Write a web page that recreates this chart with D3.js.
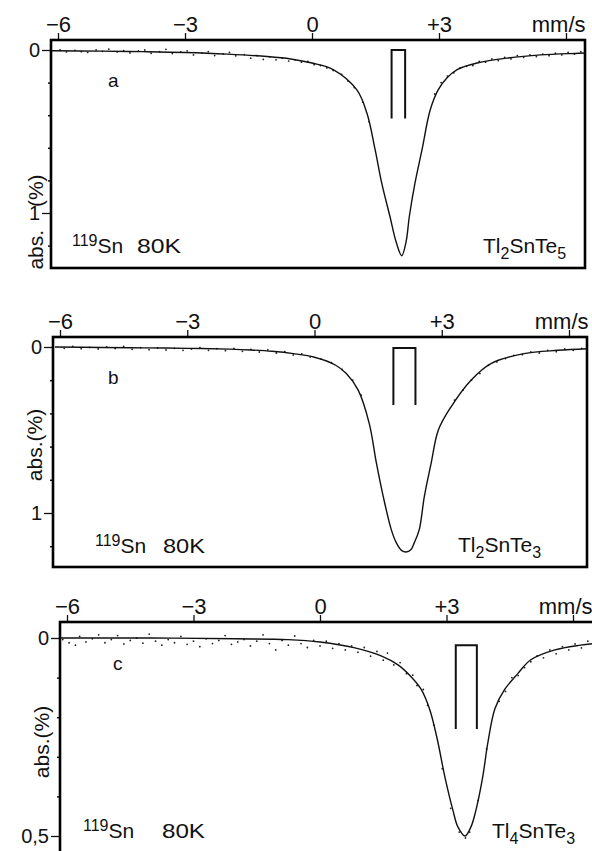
<!DOCTYPE html>
<html><head><meta charset="utf-8">
<script src="https://cdn.jsdelivr.net/npm/d3@7"></script>
<style>
body{margin:0;background:#fff}
svg{display:block;background:#fff}
text{font-family:"Liberation Sans",Arial,sans-serif;fill:#111}
</style>
</head><body><svg id="chart" width="592" height="851"></svg>
<script>
// ---------- data ----------
const velocityTicks = [-6, -3, 0, 3, 6];
const velocityTickLabels = ["\u22126", "\u22123", "0", "+3", "mm/s"];

const panelLetters = ["a", "b", "c"];
const compounds = [
  [["Tl", 0], ["2", 1], ["SnTe", 0], ["5", 1]],
  [["Tl", 0], ["2", 1], ["SnTe", 0], ["3", 1]],
  [["Tl", 0], ["4", 1], ["SnTe", 0], ["3", 1]]
];
const isotopeLabel = ["119", "Sn", "80K"];

// absorption axis (%)
const absTicksA = [0, 1], absTickLabelsA = ["0", "1"], absMinorA = [0.2, 0.4, 0.6, 0.8, 1.2];
const absTicksB = [0, 1], absTickLabelsB = ["0", "1"], absMinorB = [0.2, 0.4, 0.6, 0.8, 1.2];
const absTicksC = [0, 0.5], absTickLabelsC = ["0", "0,5"], absMinorC = [0.1, 0.2, 0.3, 0.4];

// fitted curves [velocity mm/s, absorption %]
const curveA = [[-6.15,0.005],[-5,0.007],[-4,0.01],[-3,0.015],[-2,0.025],[-1.06,0.04],[-0.5,0.055],[0,0.08],[0.5,0.12],[1.06,0.245],[1.3,0.39],[1.49,0.61],[1.65,0.82],[1.84,1.02],[1.99,1.18],[2.12,1.262],[2.22,1.18],[2.3,1.02],[2.43,0.82],[2.6,0.61],[2.79,0.37],[2.98,0.245],[3.19,0.17],[3.43,0.12],[3.9,0.08],[4.6,0.05],[5.4,0.03],[6.3,0.02],[6.45,0.018]];
const curveB = [[-6.12,0.0],[-5,0.003],[-4,0.005],[-3,0.008],[-2,0.013],[-1.5,0.018],[-1,0.026],[-0.5,0.04],[0,0.062],[0.5,0.11],[0.75,0.16],[1.03,0.26],[1.29,0.46],[1.46,0.70],[1.62,0.90],[1.81,1.10],[1.93,1.18],[2.05,1.225],[2.16,1.235],[2.27,1.222],[2.35,1.18],[2.47,1.10],[2.59,0.90],[2.75,0.70],[2.92,0.50],[3.22,0.36],[3.69,0.2],[4.16,0.1],[4.94,0.04],[5.74,0.02],[6.45,0.01]];
const curveC = [[-6.18,0.0],[-4,0.0],[-2,0.002],[-0.76,0.004],[0,0.01],[0.83,0.025],[1.45,0.045],[1.85,0.068],[2.16,0.098],[2.4,0.13],[2.6,0.18],[2.78,0.255],[2.96,0.35],[3.15,0.434],[3.27,0.477],[3.44,0.50],[3.58,0.477],[3.7,0.434],[3.86,0.35],[3.98,0.265],[4.15,0.178],[4.38,0.13],[4.69,0.09],[5.0,0.055],[5.57,0.03],[6.18,0.018],[6.5,0.014]];

// measured points
const dotsA = [[-5.95,0.0],[-5.8,0.012],[-5.6,0.002],[-5.45,0.01],[-5.3,0.015],[-5.1,0.0],[-4.95,0.008],[-4.8,-0.005],[-4.6,0.012],[-4.45,0.004],[-4.3,0.018],[-4.1,0.006],[-3.95,0.0],[-3.8,0.02],[-3.6,0.01],[-3.45,-0.004],[-3.3,0.022],[-3.1,0.012],[-2.95,0.005],[-2.8,0.03],[-2.6,0.018],[-2.45,0.01],[-2.3,0.034],[-2.1,0.024],[-1.95,0.015],[-1.8,0.036],[-1.6,0.028],[-1.45,0.05],[-1.3,0.035],[-1.15,0.058],[-1.0,0.042],[-0.85,0.06],[-0.7,0.05],[-0.55,0.068],[-0.4,0.06],[-0.25,0.075],[-0.1,0.07],[0.05,0.09],[0.2,0.095],[0.35,0.11],[0.5,0.125],[0.7,0.15],[0.85,0.19],[1.0,0.23],[1.2,0.32],[1.35,0.44],[2.9,0.27],[3.05,0.2],[3.2,0.16],[3.35,0.14],[3.5,0.11],[3.65,0.1],[3.8,0.095],[3.95,0.07],[4.1,0.075],[4.25,0.055],[4.4,0.065],[4.55,0.045],[4.7,0.055],[4.85,0.035],[5.0,0.045],[5.15,0.03],[5.3,0.04],[5.45,0.025],[5.6,0.035],[5.75,0.02],[5.9,0.03],[6.05,0.015],[6.2,0.025],[6.35,0.01]];
const dotsB = [[-5.9,0.008],[-5.7,-0.004],[-5.5,0.01],[-5.3,0.002],[-5.1,0.012],[-4.9,0.0],[-4.7,0.009],[-4.5,-0.003],[-4.3,0.014],[-4.1,0.004],[-3.9,0.016],[-3.7,0.006],[-3.5,0.018],[-3.3,0.008],[-3.1,0.02],[-2.9,0.012],[-2.7,0.004],[-2.5,0.02],[-2.3,0.01],[-2.1,0.022],[-1.9,0.008],[-1.7,0.026],[-1.5,0.014],[-1.3,0.03],[-1.1,0.018],[-0.9,0.036],[-0.7,0.028],[-0.5,0.048],[-0.3,0.042],[-0.1,0.06],[0.15,0.072],[0.4,0.095],[0.65,0.135],[0.9,0.2],[1.1,0.29],[3.3,0.32],[3.5,0.26],[3.7,0.2],[3.9,0.16],[4.1,0.11],[4.3,0.09],[4.5,0.07],[4.7,0.05],[4.9,0.046],[5.1,0.03],[5.3,0.036],[5.5,0.02],[5.7,0.028],[5.9,0.012],[6.1,0.02],[6.3,0.008]];
const dotsC = [[-6.1,0.004],[-5.95,0.012],[-5.8,0.018],[-5.7,-0.004],[-5.55,0.01],[-5.4,0.002],[-5.25,-0.008],[-5.1,0.012],[-4.95,0.004],[-4.8,-0.006],[-4.65,0.015],[-4.5,0.006],[-4.35,0.0],[-4.2,0.013],[-4.05,-0.01],[-3.9,0.008],[-3.75,0.018],[-3.6,0.004],[-3.45,0.012],[-3.3,-0.004],[-3.15,0.016],[-3.0,0.008],[-2.85,0.022],[-2.7,0.002],[-2.55,0.014],[-2.4,0.006],[-2.25,-0.006],[-2.1,0.016],[-1.95,0.01],[-1.8,0.004],[-1.65,0.02],[-1.5,0.008],[-1.35,-0.008],[-1.2,0.014],[-1.05,0.03],[-0.9,0.006],[-0.75,0.018],[-0.6,-0.005],[-0.45,0.014],[-0.3,0.024],[-0.15,0.006],[0.0,0.02],[0.15,0.008],[0.3,0.026],[0.45,0.014],[0.6,0.03],[0.75,0.02],[0.9,0.036],[1.05,0.024],[1.2,0.046],[1.35,0.034],[1.5,0.056],[1.6,0.038],[1.75,0.068],[1.9,0.062],[2.05,0.09],[2.2,0.094],[2.3,0.12],[2.45,0.13],[2.55,0.17],[2.7,0.22],[2.9,0.33],[3.1,0.43],[3.3,0.49],[3.45,0.505],[3.55,0.49],[3.75,0.41],[3.95,0.28],[4.25,0.16],[4.4,0.135],[4.55,0.1],[4.7,0.095],[4.85,0.075],[5.0,0.06],[5.15,0.045],[5.3,0.05],[5.45,0.03],[5.6,0.04],[5.75,0.022],[5.9,0.03],[6.05,0.015],[6.2,0.025],[6.35,0.008]];

// line-position markers [v from, v to, abs top, abs bottom]
const markerA = [1.88, 2.2, 0.0, 0.42];
const markerB = [1.86, 2.38, 0.006, 0.35];
const markerC = [3.22, 3.72, 0.018, 0.23];

const yAxisTitles = ["abs. (%)", "abs.(%)", "abs.(%)"];

// ---------- layout (pixels) ----------
const layouts = [
  {xm6:58, xp6:566, y0:50,  yRef:1,   yRefPx:213, l:51, r:585, t:40,  b:268,
   letter:[108,87], iso:[72,253,137,44], comp:[483,253], title:[43,222], wordSp:17},
  {xm6:60, xp6:569, y0:347, yRef:1,   yRefPx:513, l:53, r:587, t:337, b:567,
   letter:[108,384], iso:[95,553,163,42], comp:[458,552], title:[42,445], wordSp:0},
  {xm6:67, xp6:573, y0:638, yRef:0.5, yRefPx:836, l:60, r:610, t:622, b:880,
   letter:[113,670], iso:[83,838,162,43], comp:[492,838], title:[49,742], wordSp:0}
];

const panels = [
  {curve:curveA, dots:dotsA, marker:markerA, ticks:absTicksA, labels:absTickLabelsA, minor:absMinorA},
  {curve:curveB, dots:dotsB, marker:markerB, ticks:absTicksB, labels:absTickLabelsB, minor:absMinorB},
  {curve:curveC, dots:dotsC, marker:markerC, ticks:absTicksC, labels:absTickLabelsC, minor:absMinorC}
];

const svg = d3.select("#chart");
const FONT = '"Liberation Sans", Arial, sans-serif';

panels.forEach((p, i) => {
  const L = layouts[i];
  const g = svg.append("g");
  const x = d3.scaleLinear().domain([-6, 6]).range([L.xm6, L.xp6]);
  const y = d3.scaleLinear().domain([0, L.yRef]).range([L.y0, L.yRefPx]);

  const cid = "clip" + i;
  svg.append("clipPath").attr("id", cid).append("rect")
    .attr("x", L.l).attr("y", L.t).attr("width", L.r - L.l).attr("height", L.b - L.t);

  // top axis
  const ax = g.append("g").attr("transform", `translate(0,${L.t})`)
    .call(d3.axisTop(x).tickValues(velocityTicks)
      .tickFormat((d, k) => velocityTickLabels[k]).tickSize(7).tickPadding(1));
  ax.select(".domain").remove();
  ax.attr("font-size", 22).attr("font-family", FONT);
  ax.selectAll("line").attr("stroke", "#111").attr("stroke-width", 1.3);
  ax.selectAll("text").attr("fill", "#111");
  ax.selectAll(".tick").filter(d => d === 6).select("text")
    .attr("text-anchor", "end").attr("dx", 19);

  // left axis major
  const ay = g.append("g").attr("transform", `translate(${L.l},0)`)
    .call(d3.axisLeft(y).tickValues(p.ticks)
      .tickFormat((d, k) => p.labels[k]).tickSize(9).tickPadding(2));
  ay.select(".domain").remove();
  ay.attr("font-size", 20).attr("font-family", FONT);
  ay.selectAll("line").attr("stroke", "#111").attr("stroke-width", 1.3);
  ay.selectAll("text").attr("fill", "#111");
  // left axis minor
  const am = g.append("g").attr("transform", `translate(${L.l},0)`)
    .call(d3.axisLeft(y).tickValues(p.minor).tickFormat("").tickSize(3));
  am.select(".domain").remove();
  am.selectAll("line").attr("stroke", "#111").attr("stroke-width", 1.5);

  // frame
  g.append("rect").attr("x", L.l).attr("y", L.t)
    .attr("width", L.r - L.l).attr("height", L.b - L.t)
    .attr("fill", "none").attr("stroke", "#000").attr("stroke-width", 2.6);

  const plot = g.append("g").attr("clip-path", `url(#${cid})`);

  plot.selectAll("circle").data(p.dots).join("circle")
    .attr("cx", d => x(d[0])).attr("cy", d => y(d[1])).attr("r", 0.9)
    .attr("fill", "#222");

  plot.append("path").datum(p.curve)
    .attr("d", d3.line().x(d => x(d[0])).y(d => y(d[1])).curve(d3.curveCatmullRom.alpha(0.5)))
    .attr("fill", "none").attr("stroke", "#111").attr("stroke-width", 1.4);

  const m = p.marker;
  plot.append("path")
    .attr("d", `M${x(m[0])},${y(m[3])}V${y(m[2])}H${x(m[1])}V${y(m[3])}`)
    .attr("fill", "none").attr("stroke", "#111").attr("stroke-width", 2);

  g.append("text").attr("x", L.letter[0]).attr("y", L.letter[1])
    .attr("font-size", 19).text(panelLetters[i]);

  const iso = g.append("text").attr("x", L.iso[0]).attr("y", L.iso[1]).attr("font-size", 21);
  iso.append("tspan").attr("font-size", 16).attr("dy", -7).text(isotopeLabel[0]);
  iso.append("tspan").attr("dy", 7).text(isotopeLabel[1]);
  g.append("text").attr("x", L.iso[2]).attr("y", L.iso[1]).attr("font-size", 21)
    .attr("textLength", L.iso[3]).attr("lengthAdjust", "spacingAndGlyphs").text(isotopeLabel[2]);

  const ct = g.append("text").attr("x", L.comp[0]).attr("y", L.comp[1]).attr("font-size", 21);
  let sub = 0;
  compounds[i].forEach(([s, isSub]) => {
    const dy = isSub && !sub ? 6 : (!isSub && sub ? -6 : 0);
    ct.append("tspan").attr("dy", dy).attr("font-size", isSub ? 16 : 21).text(s);
    sub = isSub;
  });

  g.append("text").attr("transform", `translate(${L.title[0]},${L.title[1]}) rotate(-90)`)
    .attr("text-anchor", "middle").attr("font-size", 21)
    .attr("word-spacing", L.wordSp).text(yAxisTitles[i]);
});
</script></body></html>
